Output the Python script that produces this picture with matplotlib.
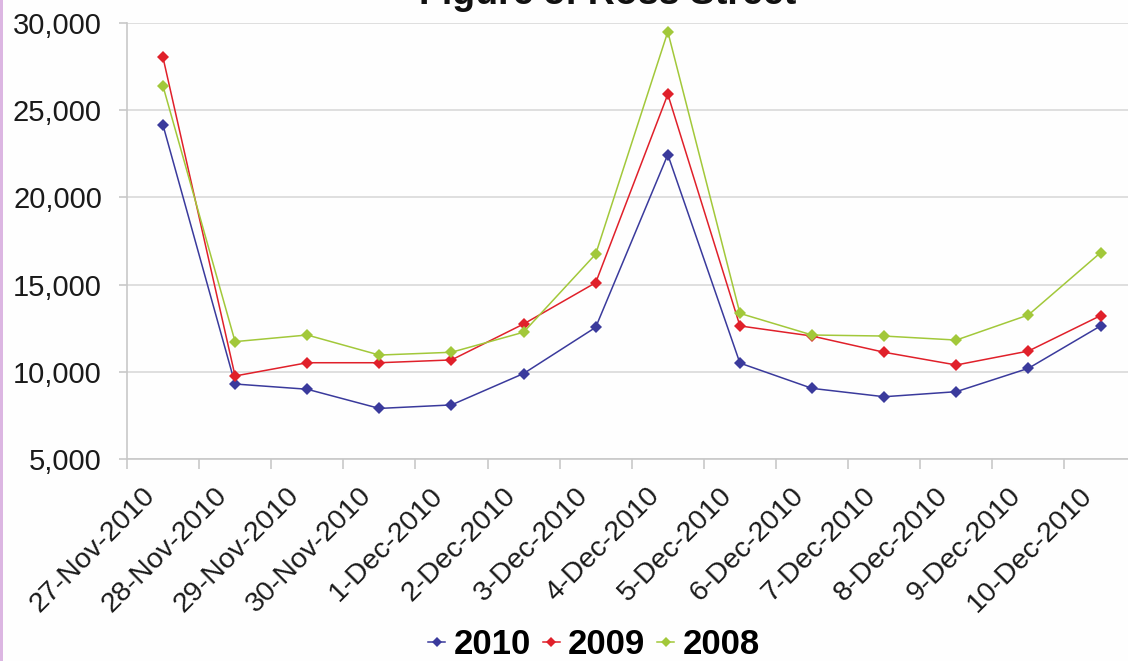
import matplotlib
matplotlib.use("Agg")
import matplotlib.pyplot as plt
from matplotlib.patches import Rectangle
from matplotlib.ticker import FuncFormatter, FixedLocator
from matplotlib.transforms import ScaledTranslation

plt.rcParams['font.family'] = ['Liberation Sans', 'DejaVu Sans']

dates = ["27-Nov-2010", "28-Nov-2010", "29-Nov-2010", "30-Nov-2010",
         "1-Dec-2010", "2-Dec-2010", "3-Dec-2010", "4-Dec-2010",
         "5-Dec-2010", "6-Dec-2010", "7-Dec-2010", "8-Dec-2010",
         "9-Dec-2010", "10-Dec-2010"]
s2010 = [24150, 9300, 9000, 7900, 8100, 9900, 12550, 22450,
         10500, 9050, 8570, 8860, 10200, 12630]
s2009 = [28030, 9760, 10520, 10520, 10680, 12740, 15110, 25910,
         12630, 12050, 11120, 10390, 11190, 13220]
s2008 = [26390, 11730, 12110, 10960, 11120, 12270, 16750, 29500,
         13350, 12110, 12050, 11820, 13260, 16830]
series_names = ["2010", "2009", "2008"]
yticks = [5000, 10000, 15000, 20000, 25000, 30000]
title = "Figure 5: Ross Street"

colors = ["#3a3a9c", "#e0202a", "#a2c83a"]

fig = plt.figure(figsize=(11.28, 6.61), dpi=100)
fig.patch.set_facecolor("#fefefe")
fig.patches.append(Rectangle((0, 0), 2.5 / 1128, 1, transform=fig.transFigure,
                             facecolor="#dcb6e2", edgecolor="none", zorder=10))

ax = fig.add_axes([126.9 / 1128, 1 - 459 / 661, 1009.7 / 1128, 436 / 661])
ax.set_facecolor("#fefefe")

x = list(range(len(dates)))
for vals, c, name in zip([s2010, s2009, s2008], colors, series_names):
    ax.plot(x, vals, color=c, lw=1.1, marker="D", markersize=6.3,
            markeredgewidth=0, label=name, zorder=3)

ax.set_xlim(-0.5, len(dates) - 0.5)
ax.set_ylim(5000, 30000)
ax.set_yticks(yticks)
ax.yaxis.set_major_formatter(FuncFormatter(lambda v, p: f"{int(v):,}"))
ax.grid(axis="y", color="#d9d9d9", lw=1.2, zorder=0)
ax.set_axisbelow(True)

ax.set_xticks(x)
ax.set_xticklabels(dates)
ax.xaxis.set_minor_locator(FixedLocator([i - 0.5 for i in range(len(dates) + 1)]))
ax.tick_params(axis="x", which="major", length=0, pad=27, labelsize=20.5,
               labelcolor="#1a1a1a")
ax.tick_params(axis="x", which="minor", length=7, color="#c8c8c8", width=1.2)
ax.tick_params(axis="y", length=6, color="#c8c8c8", width=1.2, pad=12,
               labelsize=21, labelcolor="#1a1a1a")
shift = ScaledTranslation(-7 / 100, 0, fig.dpi_scale_trans)
for lab in ax.get_xticklabels():
    lab.set_rotation(45)
    lab.set_ha("right")
    lab.set_va("baseline")
    lab.set_rotation_mode("anchor")
    lab.set_transform(lab.get_transform() + shift)

for side in ["top", "right"]:
    ax.spines[side].set_visible(False)
for side in ["left", "bottom"]:
    ax.spines[side].set_color("#c8c8c8")
    ax.spines[side].set_linewidth(1.2)

fig.text(608 / 1128, 1 - 4 / 661, title, ha="center", va="baseline",
         fontsize=27, fontweight="bold", color="#111111")

leg = fig.legend(loc="center", bbox_to_anchor=(594 / 1128, 1 - 645 / 661),
                 ncol=3, frameon=False, handlelength=0.5, handletextpad=0.24,
                 columnspacing=0.33, markerscale=0.75,
                 prop={"size": 25, "weight": "bold"})

fig.savefig("out.png", dpi=100, facecolor=fig.get_facecolor())
